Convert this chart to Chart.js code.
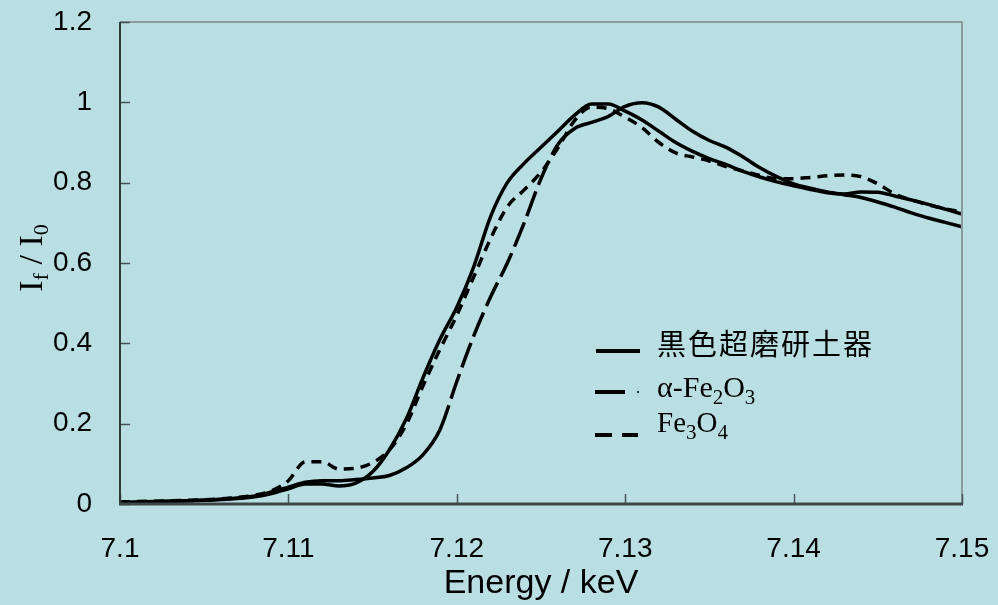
<!DOCTYPE html>
<html>
<head>
<meta charset="utf-8">
<script src="https://cdn.jsdelivr.net/npm/chart.js@4.4.1/dist/chart.umd.min.js"></script>
<style>
  html, body { margin: 0; padding: 0; background: #BADFE3; }
  #wrap { width: 998px; height: 605px; }
</style>
</head>
<body>
<div id="wrap"><canvas id="c" width="998" height="605"></canvas></div>
<script>
// ---- data ----
const energy = [7.100, 7.102, 7.104, 7.106, 7.108, 7.109, 7.110, 7.111, 7.112, 7.113,
                7.114, 7.115, 7.116, 7.117, 7.118, 7.119, 7.120, 7.121, 7.122, 7.123,
                7.124, 7.125, 7.126, 7.127, 7.128, 7.129, 7.130, 7.131, 7.132, 7.133,
                7.134, 7.135, 7.136, 7.137, 7.138, 7.139, 7.140, 7.141, 7.142, 7.143,
                7.144, 7.145, 7.146, 7.147, 7.148, 7.149, 7.150];
const kokushoku = [0.004, 0.006, 0.008, 0.011, 0.018, 0.026, 0.038, 0.050, 0.050, 0.045,
                   0.052, 0.080, 0.135, 0.212, 0.315, 0.410, 0.490, 0.590, 0.715, 0.800,
                   0.848, 0.888, 0.928, 0.968, 0.996, 0.996, 0.978, 0.956, 0.928, 0.900,
                   0.878, 0.860, 0.845, 0.828, 0.814, 0.802, 0.792, 0.783, 0.775, 0.772,
                   0.777, 0.776, 0.767, 0.757, 0.746, 0.734, 0.722];
const hematite = [0.003, 0.005, 0.008, 0.012, 0.020, 0.030, 0.042, 0.054, 0.058, 0.058,
                  0.061, 0.065, 0.071, 0.090, 0.123, 0.185, 0.305, 0.418, 0.515, 0.600,
                  0.700, 0.810, 0.895, 0.935, 0.950, 0.965, 0.990, 0.999, 0.988, 0.958,
                  0.928, 0.905, 0.888, 0.864, 0.837, 0.815, 0.797, 0.786, 0.777, 0.770,
                  0.763, 0.752, 0.739, 0.725, 0.712, 0.701, 0.690];
const magnetite = [0.005, 0.007, 0.009, 0.013, 0.022, 0.033, 0.058, 0.105, 0.105, 0.087,
                   0.089, 0.103, 0.135, 0.198, 0.295, 0.385, 0.470, 0.565, 0.660, 0.740,
                   0.782, 0.826, 0.886, 0.955, 0.988, 0.984, 0.963, 0.937, 0.900, 0.874,
                   0.864, 0.854, 0.840, 0.829, 0.818, 0.810, 0.810, 0.813, 0.817, 0.819,
                   0.815, 0.797, 0.772, 0.757, 0.745, 0.735, 0.727];
const seriesLabels = ['黒色超磨研土器', 'α-Fe2O3', 'Fe3O4'];
const xTickLabels = ['7.1', '7.11', '7.12', '7.13', '7.14', '7.15'];
const yTickLabels = ['0', '0.2', '0.4', '0.6', '0.8', '1', '1.2'];
const xTitle = 'Energy / keV';
const yTitleParts = [['I', false], ['f', true], [' / I', false], ['0', true]];

// ---- styles ----
const BG = '#BADFE3';
const dashes = [[], [26, 7], [10, 7]];
const hemDashRange = [7.1185, 7.1265];

function toPoints(arr) { return energy.map((e, i) => ({ x: e, y: arr[i] })); }

function richParts(label) {
  const parts = [];
  for (const ch of label) {
    const sub = /[0-9]/.test(ch);
    if (parts.length && parts[parts.length - 1][1] === sub) parts[parts.length - 1][0] += ch;
    else parts.push([ch, sub]);
  }
  return parts;
}

function drawRich(ctx, parts, x, y, size, subSize, family, subShift) {
  let cx = x;
  for (const [t, sub] of parts) {
    ctx.font = (sub ? subSize : size) + 'px ' + family;
    ctx.fillText(t, cx, y + (sub ? subShift : 0));
    cx += ctx.measureText(t).width;
  }
  return cx - x;
}
function measureRich(ctx, parts, size, subSize, family) {
  let w = 0;
  for (const [t, sub] of parts) {
    ctx.font = (sub ? subSize : size) + 'px ' + family;
    w += ctx.measureText(t).width;
  }
  return w;
}

const decor = {
  id: 'decor',
  beforeDraw(chart) {
    const ctx = chart.ctx;
    ctx.save();
    ctx.fillStyle = BG;
    ctx.fillRect(0, 0, chart.width, chart.height);
    ctx.restore();
  },
  afterDraw(chart) {
    const ctx = chart.ctx;
    const a = chart.chartArea;
    const xs = chart.scales.x, ys = chart.scales.y;
    ctx.save();
    ctx.strokeStyle = '#8d9a9c';
    ctx.lineWidth = 2;
    ctx.beginPath();
    ctx.moveTo(a.left, a.top); ctx.lineTo(a.right, a.top); ctx.lineTo(a.right, a.bottom);
    ctx.stroke();
    ctx.strokeStyle = '#4a5456';
    ctx.lineWidth = 1.5;
    ctx.beginPath();
    ys.ticks.forEach(t => {
      const py = Math.round(ys.getPixelForValue(t.value)) + 0.5;
      ctx.moveTo(a.left, py); ctx.lineTo(a.left + 10, py);
    });
    xs.ticks.forEach(t => {
      const px = Math.round(xs.getPixelForValue(t.value)) + 0.5;
      ctx.moveTo(px, a.bottom); ctx.lineTo(px, a.bottom - 10);
    });
    ctx.stroke();
    ctx.strokeStyle = '#2f3a3c';
    ctx.lineWidth = 2;
    ctx.beginPath(); ctx.moveTo(a.left, a.top); ctx.lineTo(a.left, a.bottom); ctx.stroke();
    ctx.strokeStyle = '#3d4648';
    ctx.lineWidth = 3;
    ctx.beginPath(); ctx.moveTo(a.left - 1, a.bottom); ctx.lineTo(a.right + 1, a.bottom); ctx.stroke();

    // legend (inside plot)
    ctx.fillStyle = '#000';
    ctx.strokeStyle = '#000';
    ctx.lineWidth = 4;
    ctx.lineCap = 'butt';
    ctx.setLineDash([]);
    ctx.beginPath(); ctx.moveTo(596, 351); ctx.lineTo(640, 351); ctx.stroke();
    ctx.beginPath(); ctx.moveTo(595, 392); ctx.lineTo(625, 392); ctx.stroke();
    ctx.beginPath(); ctx.moveTo(637, 392); ctx.lineTo(639, 392); ctx.lineWidth = 1.5; ctx.stroke();
    ctx.lineWidth = 4;
    ctx.beginPath(); ctx.moveTo(595, 435); ctx.lineTo(612, 435); ctx.moveTo(622, 435); ctx.lineTo(638, 435); ctx.stroke();

    ctx.textBaseline = 'alphabetic';
    ctx.textAlign = 'left';
    ctx.font = '29px "Noto Sans CJK JP"';
    if ('letterSpacing' in ctx) ctx.letterSpacing = '2px';
    ctx.fillText(seriesLabels[0], 657, 355);
    if ('letterSpacing' in ctx) ctx.letterSpacing = '0px';
    const serif = '"Liberation Serif", "Times New Roman", serif';
    drawRich(ctx, richParts(seriesLabels[1]), 657, 397, 30, 21, serif, 7);
    drawRich(ctx, richParts(seriesLabels[2]), 657, 432, 29, 21, serif, 7);

    ctx.translate(31, 258);
    ctx.rotate(-Math.PI / 2);
    const w = measureRich(ctx, yTitleParts, 34, 22, serif);
    drawRich(ctx, yTitleParts, -w / 2, 11, 34, 22, serif, 6);
    ctx.restore();
  }
};

new Chart(document.getElementById('c'), {
  type: 'line',
  data: {
    datasets: [kokushoku, hematite, magnetite].map((arr, i) => ({
      label: seriesLabels[i],
      data: toPoints(arr),
      borderColor: '#000',
      borderWidth: 3.5,
      borderDash: dashes[i],
      pointRadius: 0,
      fill: false,
      cubicInterpolationMode: 'monotone',
      tension: 0.4,
      segment: i === 1 ? {
        borderDash: (ctx) => (ctx.p0.parsed.x >= hemDashRange[0] && ctx.p1.parsed.x <= hemDashRange[1]) ? dashes[1] : []
      } : undefined
    }))
  },
  options: {
    responsive: false,
    animation: false,
    devicePixelRatio: 1,
    layout: { padding: { top: 22, right: 36, left: 0, bottom: 0 } },
    plugins: { legend: { display: false }, tooltip: { enabled: false }, title: { display: false } },
    scales: {
      x: {
        type: 'linear',
        min: 7.1, max: 7.15,
        grid: { display: false, drawTicks: false },
        border: { display: false },
        ticks: {
          stepSize: 0.01,
          padding: 28,
          color: '#000',
          font: { family: '"Liberation Sans", Arial, sans-serif', size: 28 },
          maxRotation: 0,
          autoSkip: false,
          callback: (v, i) => xTickLabels[i]
        },
        title: {
          display: true,
          text: xTitle,
          color: '#000',
          font: { family: '"Liberation Sans", Arial, sans-serif', size: 34, lineHeight: 1 },
          padding: { top: 0, bottom: 4 }
        },
        afterFit: (s) => { s.height = 101; s.paddingLeft = 0; s.paddingRight = 0; }
      },
      y: {
        type: 'linear',
        min: 0, max: 1.2,
        grid: { display: false, drawTicks: false },
        border: { display: false },
        ticks: {
          stepSize: 0.2,
          padding: 28,
          color: '#000',
          font: { family: '"Liberation Sans", Arial, sans-serif', size: 28 },
          callback: (v, i) => yTickLabels[i]
        },
        afterFit: (s) => { s.width = 120; s.paddingTop = 0; s.paddingBottom = 0; }
      }
    }
  },
  plugins: [decor]
});
</script>
</body>
</html>
